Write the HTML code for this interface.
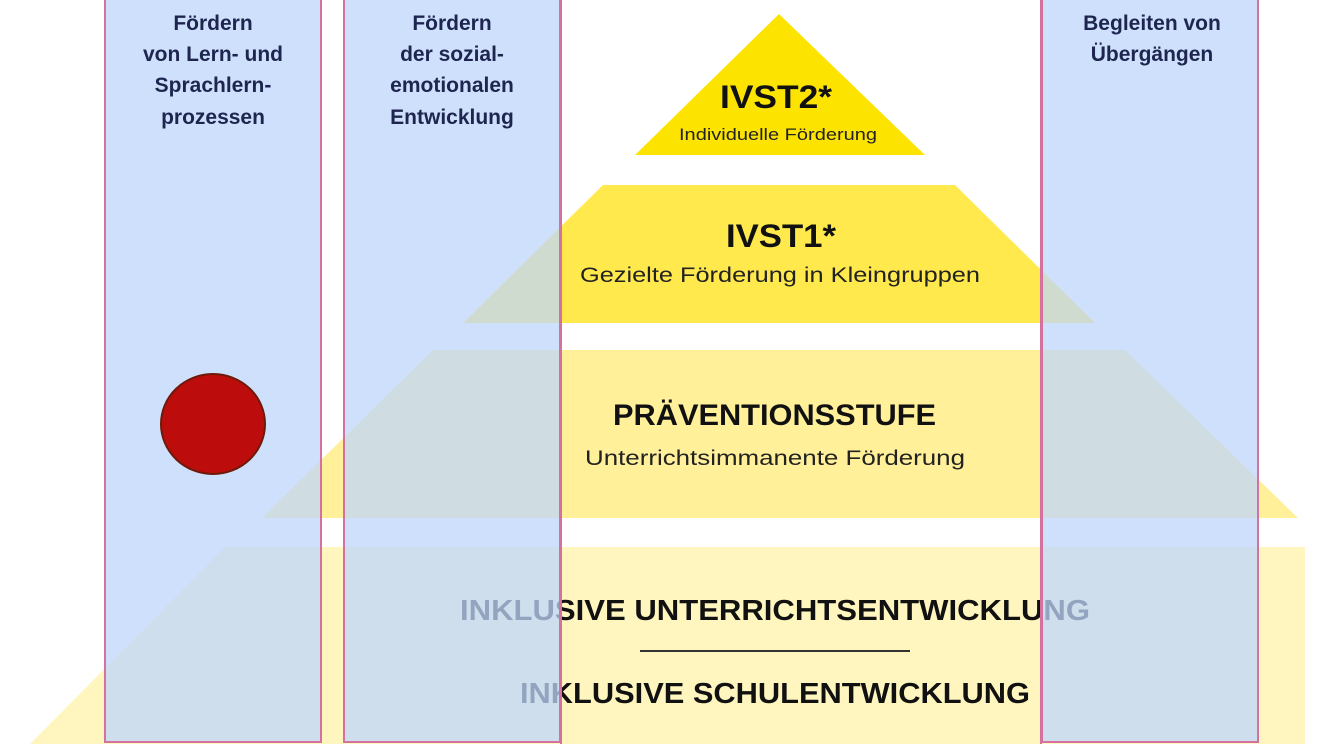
<!DOCTYPE html>
<html><head><meta charset="utf-8"><style>
html,body{margin:0;padding:0;background:#fff;}
svg{display:block;}
</style></head><body>
<svg width="1322" height="744" viewBox="0 0 1322 744" xmlns="http://www.w3.org/2000/svg" font-family="'Liberation Sans', sans-serif">
<rect width="1322" height="744" fill="#fff"/>
<polygon points="779,14 925,155 635,155" fill="#fde300"/>
<polygon points="603,185 955,185 1095,323 463,323" fill="#ffe94d"/>
<polygon points="433,350 1125,350 1298,518 262,518" fill="#fff099"/>
<polygon points="225,547 1305,547 1305,744 30,744" fill="#fff6bf"/>
<g fill="#111" font-weight="bold">
<text x="720" y="108" font-size="32" textLength="112" lengthAdjust="spacingAndGlyphs">IVST2*</text>
<text x="679" y="140" font-size="17" font-weight="normal" fill="#222" textLength="198" lengthAdjust="spacingAndGlyphs">Individuelle Förderung</text>
<text x="726" y="247" font-size="32" textLength="110" lengthAdjust="spacingAndGlyphs">IVST1*</text>
<text x="580" y="282" font-size="21" font-weight="normal" fill="#222" textLength="400" lengthAdjust="spacingAndGlyphs">Gezielte Förderung in Kleingruppen</text>
<text x="613" y="425" font-size="30" textLength="323" lengthAdjust="spacingAndGlyphs">PRÄVENTIONSSTUFE</text>
<text x="585" y="465" font-size="21" font-weight="normal" fill="#222" textLength="380" lengthAdjust="spacingAndGlyphs">Unterrichtsimmanente Förderung</text>
<text x="460" y="620" font-size="29" textLength="630" lengthAdjust="spacingAndGlyphs">INKLUSIVE UNTERRICHTSENTWICKLUNG</text>
<text x="520" y="703" font-size="29" textLength="510" lengthAdjust="spacingAndGlyphs">INKLUSIVE SCHULENTWICKLUNG</text>
</g>
<line x1="640" y1="651" x2="910" y2="651" stroke="#333" stroke-width="2"/>
<g stroke="#d4719f" stroke-width="2">
<rect x="105" y="-5" width="216" height="747" fill="#bfd6fb" fill-opacity="0.75"/>
<rect x="344" y="-5" width="216" height="747" fill="#bfd6fb" fill-opacity="0.75"/>
<rect x="561" y="-5" width="480" height="752" fill="none"/>
<rect x="1042" y="-5" width="216" height="747" fill="#bfd6fb" fill-opacity="0.75"/>
</g>
<ellipse cx="213" cy="424" rx="52" ry="50" fill="#bc0c0c" stroke="#6e1a0a" stroke-width="2"/>
<g text-anchor="middle" fill="#1e2650" font-weight="bold" font-size="21">
<text x="213" y="30">Fördern</text>
<text x="213" y="61">von Lern- und</text>
<text x="213" y="92">Sprachlern-</text>
<text x="213" y="124">prozessen</text>
<text x="452" y="30">Fördern</text>
<text x="452" y="61">der sozial-</text>
<text x="452" y="92">emotionalen</text>
<text x="452" y="124">Entwicklung</text>
<text x="1152" y="30">Begleiten von</text>
<text x="1152" y="61">Übergängen</text>
</g>
</svg>
</body></html>
